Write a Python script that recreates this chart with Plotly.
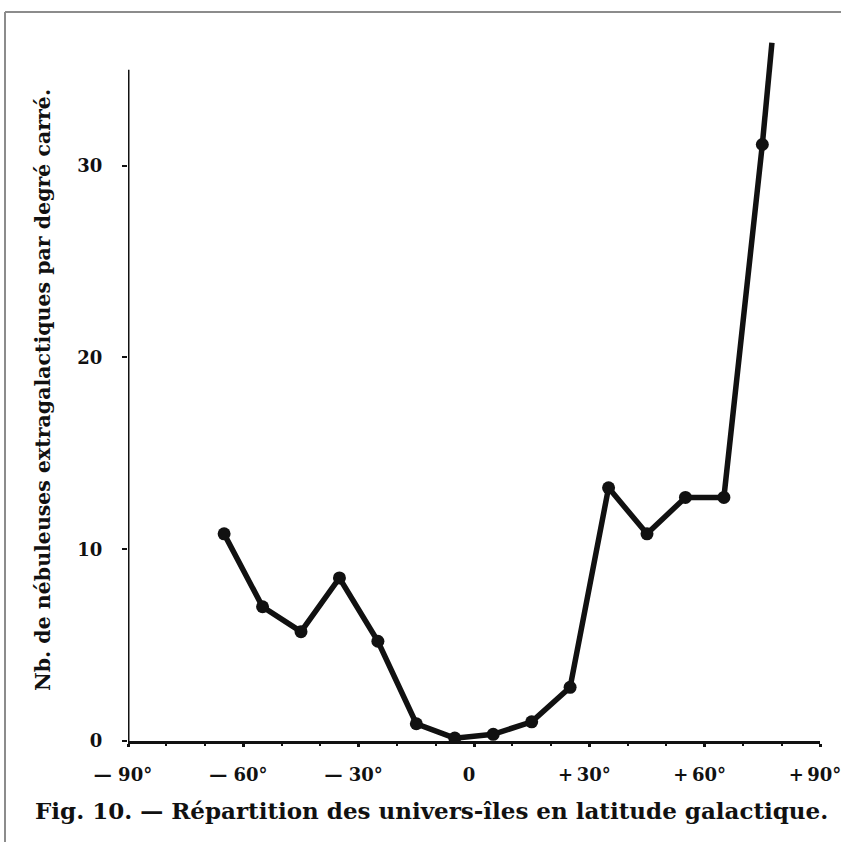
import plotly.graph_objects as go

# Galactic latitude bin centres (degrees) and counts of extragalactic nebulae per square degree
latitude = [-65, -55, -45, -35, -25, -15, -5, 5, 15, 25, 35, 45, 55, 65, 75]
density = [10.8, 7.0, 5.7, 8.5, 5.2, 0.9, 0.15, 0.35, 1.0, 2.8, 13.2, 10.8, 12.7, 12.7, 31.1]

# The curve keeps rising past the last bin, drawn without a marker
tail_latitude = [75, 77.5]
tail_density = [31.1, 36.4]

x_tickvals = [-90, -60, -30, 0, 30, 60, 90]
x_ticktext = ["— 90°", "— 60°", "— 30°", "0", "+\u200930°", "+\u200960°", "+\u200990°"]
y_tickvals = [0, 10, 20, 30]
y_ticktext = ["0", "10", "20", "30"]

y_axis_top = 35
x_range = [-90, 90]
y_range = [0, 36.6]

W, H = 841, 842
M = dict(l=128, r=21, t=39, b=101)
plot_w = W - M["l"] - M["r"]
plot_h = H - M["t"] - M["b"]


def px_to_paper_x(px):
    return (px - M["l"]) / plot_w


def px_to_paper_y(py):
    return (H - M["b"] - py) / plot_h


serif = "DejaVu Serif"
ink = "#111111"

fig = go.Figure()

fig.add_trace(go.Scatter(
    x=tail_latitude, y=tail_density, mode="lines",
    line=dict(color=ink, width=5.5), hoverinfo="skip", showlegend=False,
))
fig.add_trace(go.Scatter(
    x=latitude, y=density, mode="lines+markers",
    line=dict(color=ink, width=5.5),
    marker=dict(color=ink, size=13),
    showlegend=False,
))

# Vertical axis line stops short of the top of the plotting area
fig.add_shape(type="line", xref="x", yref="y",
              x0=x_range[0], x1=x_range[0], y0=0, y1=y_axis_top,
              line=dict(color=ink, width=3), layer="below")

# Page frame along the top and left edges
frame = dict(color="#8c8c8c", width=2)
fig.add_shape(type="line", xref="paper", yref="paper",
              x0=px_to_paper_x(5), x1=px_to_paper_x(W + 20),
              y0=px_to_paper_y(12), y1=px_to_paper_y(12), line=frame)
fig.add_shape(type="line", xref="paper", yref="paper",
              x0=px_to_paper_x(5), x1=px_to_paper_x(5),
              y0=px_to_paper_y(12), y1=px_to_paper_y(H + 20), line=frame)

fig.add_annotation(
    text="Fig. 10. — Répartition des univers-îles en latitude galactique.",
    xref="paper", yref="paper",
    x=px_to_paper_x(431), y=px_to_paper_y(810),
    xanchor="center", yanchor="middle", showarrow=False,
    font=dict(family=serif, size=23, color=ink, weight="bold"),
)

fig.add_annotation(
    text="Nb. de nébuleuses extragalactiques par degré carré.",
    xref="paper", yref="paper",
    x=px_to_paper_x(43), y=px_to_paper_y(390),
    xanchor="center", yanchor="middle", textangle=-90, showarrow=False,
    font=dict(family=serif, size=20.5, color=ink, weight="bold"),
)

fig.update_layout(
    width=W, height=H, margin=M,
    paper_bgcolor="white", plot_bgcolor="white",
    xaxis=dict(
        range=x_range, tickvals=x_tickvals, ticktext=x_ticktext,
        showgrid=False, zeroline=False, automargin=False,
        showline=True, linecolor=ink, linewidth=3,
        ticks="outside", ticklen=3, tickwidth=3, tickcolor=ink,
        minor=dict(dtick=10, ticks="outside", ticklen=2, tickwidth=2, tickcolor=ink),
        tickfont=dict(family=serif, size=18, color=ink, weight="bold"),
        ticklabelstandoff=12, ticklabeloverflow="allow", ticklabelshift=-5,
    ),
    yaxis=dict(
        range=y_range, tickvals=y_tickvals, ticktext=y_ticktext,
        showgrid=False, zeroline=False, showline=False, automargin=False,
        ticks="outside", ticklen=5, tickwidth=2, tickcolor=ink,
        tickfont=dict(family=serif, size=18, color=ink, weight="bold"),
        ticklabelstandoff=16, ticklabeloverflow="allow",
    ),
)

fig.write_html("out.html")
